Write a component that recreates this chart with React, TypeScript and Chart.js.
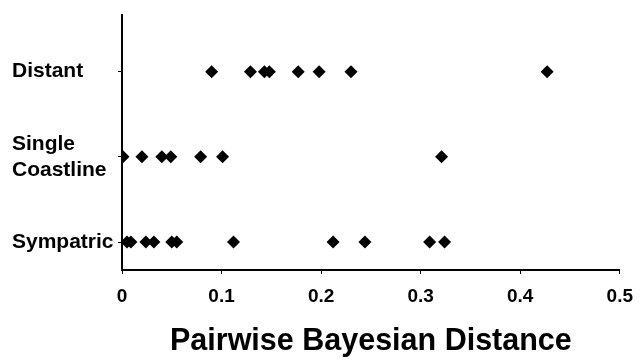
import React, { useEffect, useRef } from "react";
import { Chart, registerables } from "chart.js";

Chart.register(...registerables);

const categories = ["Sympatric", ["Single", "Coastline"], "Distant"];
const categoryPositions = [1, 2, 3];
const xTicks = [0, 0.1, 0.2, 0.3, 0.4, 0.5];

const sympatric = [0.005, 0.009, 0.024, 0.032, 0.05, 0.055, 0.112, 0.212, 0.244, 0.309, 0.324];
const singleCoastline = [0.001, 0.02, 0.04, 0.049, 0.079, 0.101, 0.321];
const distant = [0.09, 0.129, 0.143, 0.148, 0.177, 0.198, 0.23, 0.427];

const FONT = "'Liberation Sans', Arial, Helvetica, sans-serif";

export default function App() {
  const ref = useRef<HTMLCanvasElement | null>(null);
  useEffect(() => {
    document.body.style.margin = "0";
    const ctx = ref.current!;
    const mk = (vals: number[], y: number) => vals.map((v) => ({ x: v, y }));
    const ds = (data: { x: number; y: number }[]) => ({
      data,
      pointStyle: "rectRot" as const,
      pointRadius: 6.5,
      pointBackgroundColor: "#000",
      pointBorderColor: "#000",
      pointBorderWidth: 0,
      showLine: false,
    });
    const chart = new Chart(ctx, {
      type: "scatter",
      data: {
        datasets: [
          ds(mk(sympatric, categoryPositions[0])),
          ds(mk(singleCoastline, categoryPositions[1])),
          ds(mk(distant, categoryPositions[2])),
        ],
      },
      options: {
        animation: false,
        responsive: false,
        maintainAspectRatio: false,
        layout: { padding: { top: 12, right: 24, left: 12, bottom: 0 } },
        plugins: { legend: { display: false }, tooltip: { enabled: false } },
        scales: {
          x: {
            type: "linear",
            min: 0,
            max: 0.5,
            afterBuildTicks: (s: any) => {
              s.ticks = xTicks.map((v) => ({ value: v }));
            },
            afterFit: (s: any) => {
              s.height = 90;
            },
            ticks: {
              color: "#000",
              font: { family: FONT, size: 19, weight: "bold" },
              padding: 11,
              callback: (v: any) => String(Number(v)),
              maxRotation: 0,
            },
            grid: { drawOnChartArea: false, drawTicks: true, tickLength: 4, color: "#000", lineWidth: 1 },
            border: { display: true, color: "#000", width: 2 },
            title: {
              display: true,
              text: "Pairwise Bayesian Distance",
              color: "#000",
              font: { family: FONT, size: 30.5, weight: "bold" },
              padding: { top: 10, bottom: 0 },
            },
          },
          y: {
            type: "linear",
            min: 0.672,
            max: 3.665,
            afterBuildTicks: (s: any) => {
              s.ticks = categoryPositions.map((v) => ({ value: v }));
            },
            afterFit: (s: any) => {
              s.width = 110;
            },
            ticks: {
              color: "#000",
              font: { family: FONT, size: 21, weight: "bold", lineHeight: 1.24 },
              padding: 2,
              crossAlign: "far",
              align: "center",
              callback: (v: any) => {
                const i = categoryPositions.indexOf(Number(v));
                return i >= 0 ? (categories[i] as any) : "";
              },
            },
            grid: { drawOnChartArea: false, drawTicks: true, tickLength: 4, color: "#000", lineWidth: 1 },
            border: { display: true, color: "#000", width: 2 },
          },
        },
      },
    });
    return () => chart.destroy();
  }, []);
  return <canvas ref={ref} width={644} height={360} style={{ display: "block" }} />;
}
